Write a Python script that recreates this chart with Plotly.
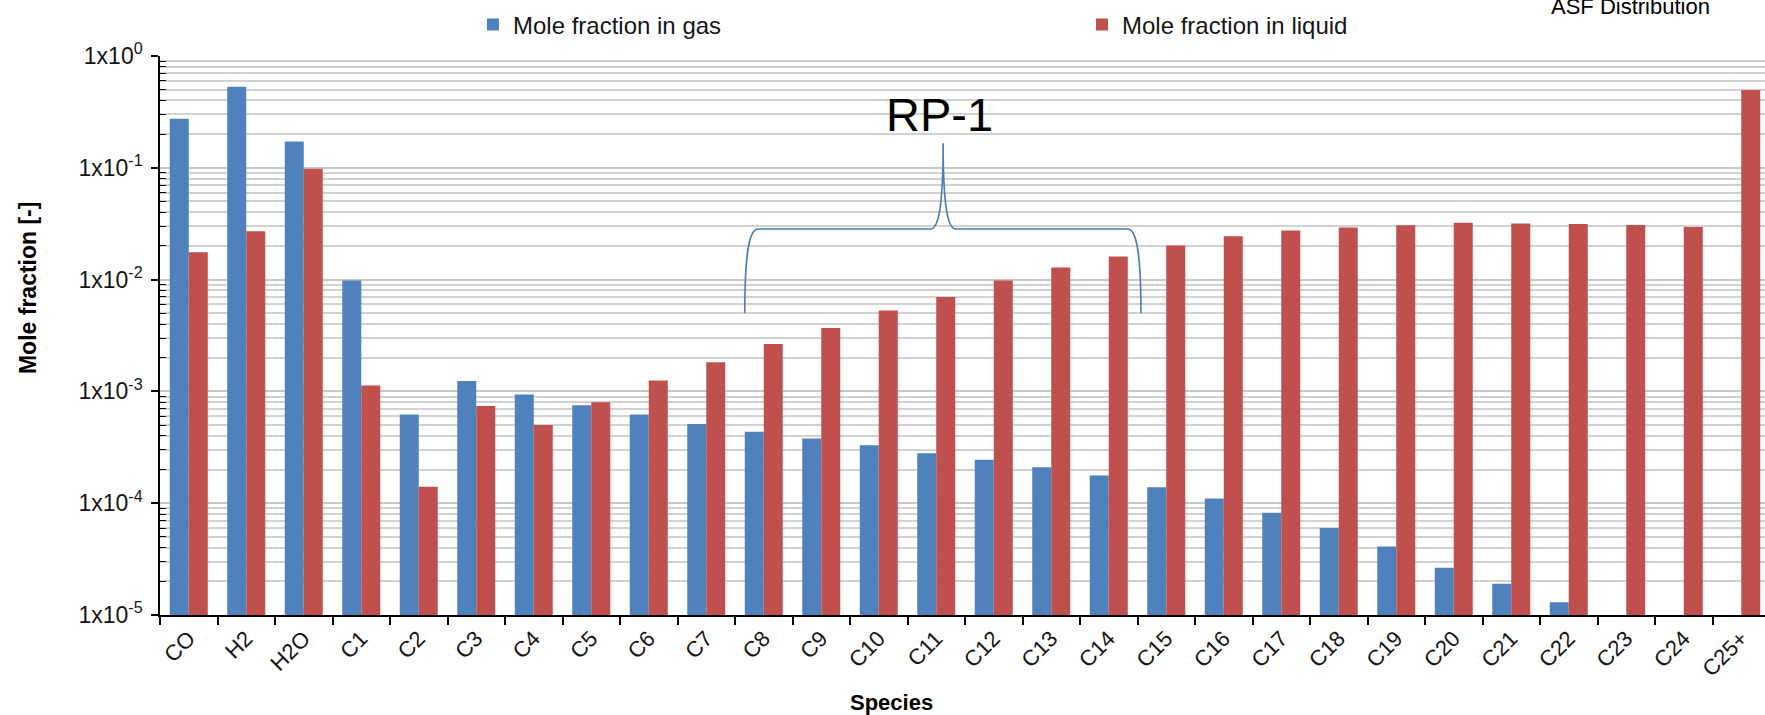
import plotly.graph_objects as go

# ---------------- data ----------------
species = ["CO", "H2", "H2O", "C1", "C2", "C3", "C4", "C5", "C6", "C7", "C8", "C9",
           "C10", "C11", "C12", "C13", "C14", "C15", "C16", "C17", "C18", "C19",
           "C20", "C21", "C22", "C23", "C24", "C25+"]

gas = [0.275, 0.53, 0.172, 0.0098, 6.2e-4, 1.24e-3, 9.4e-4, 7.5e-4, 6.2e-4, 5.1e-4,
       4.35e-4, 3.8e-4, 3.3e-4, 2.8e-4, 2.45e-4, 2.1e-4, 1.77e-4, 1.39e-4, 1.1e-4,
       8.2e-5, 6.0e-5, 4.1e-5, 2.65e-5, 1.9e-5, 1.3e-5, 9.5e-6, 9.0e-6, 8.5e-6]

liquid = [0.0176, 0.027, 0.098, 1.13e-3, 1.4e-4, 7.4e-4, 5.0e-4, 8.0e-4, 1.25e-3,
          1.82e-3, 2.65e-3, 3.7e-3, 5.3e-3, 7.0e-3, 9.8e-3, 1.28e-2, 1.61e-2, 2.02e-2,
          2.44e-2, 2.75e-2, 2.93e-2, 3.07e-2, 3.22e-2, 3.17e-2, 3.14e-2, 3.08e-2,
          2.95e-2, 0.497]

major_ticks = [1e-5, 1e-4, 1e-3, 1e-2, 1e-1, 1e0]
major_text = ["1x10<sup>-5</sup>", "1x10<sup>-4</sup>", "1x10<sup>-3</sup>",
              "1x10<sup>-2</sup>", "1x10<sup>-1</sup>", "1x10<sup>0</sup>"]
minor_ticks = [m * 10.0 ** e for e in range(-5, 0) for m in range(2, 10)]

gas_name = "Mole fraction in gas"
liq_name = "Mole fraction in liquid"
BLUE = "#4f81bd"
RED = "#c0504d"
FONT = "Liberation Sans, Arial, sans-serif"
TXT = "#151515"

fig = go.Figure()
fig.add_trace(go.Bar(x=species, y=gas, name=gas_name, marker=dict(color=BLUE, line=dict(width=0))))
fig.add_trace(go.Bar(x=species, y=liquid, name=liq_name, marker=dict(color=RED, line=dict(width=0))))

# RP-1 bracket (x in category index units, y in paper units)
xl, xl2, xm, xr2, xr = 9.67, 9.90, 13.12, 16.33, 16.56
yb, yh, yp = 0.540, 0.6905, 0.844
path = (f"M {xl},{yb} C {xl},{yh - 0.06} {xl + 0.05},{yh} {xl2},{yh} "
        f"L {xm - 0.22},{yh} C {xm - 0.08},{yh} {xm},{yh + 0.04} {xm},{yp} "
        f"C {xm},{yh + 0.04} {xm + 0.08},{yh} {xm + 0.22},{yh} "
        f"L {xr2},{yh} C {xr - 0.05},{yh} {xr},{yh - 0.06} {xr},{yb}")
fig.add_shape(type="path", path=path, xref="x", yref="paper",
              line=dict(color="#4a7ebb", width=1.6))

fig.add_annotation(text="RP-1", x=13.05, y=0.896, xref="x", yref="paper",
                   showarrow=False, font=dict(size=47, color="black", family=FONT),
                   xanchor="center", yanchor="middle")
fig.add_annotation(text="ASF Distribution", x=0.967, y=1.063, xref="paper", yref="paper",
                   showarrow=False, font=dict(size=22, color="black", family=FONT),
                   xanchor="right", yanchor="bottom")
fig.add_annotation(text="<b>Mole fraction [-]</b>", x=-0.0822, y=0.585, xref="paper",
                   yref="paper", showarrow=False, textangle=-90,
                   font=dict(size=23, color="black", family=FONT),
                   xanchor="center", yanchor="middle")
fig.add_annotation(text="<b>Species</b>", x=0.456, y=-0.157, xref="paper", yref="paper",
                   showarrow=False, font=dict(size=22, color="black", family=FONT),
                   xanchor="center", yanchor="middle")

fig.update_layout(
    width=1765, height=715, autosize=False,
    margin=dict(l=160, r=0, t=56, b=100, pad=0),
    paper_bgcolor="white", plot_bgcolor="white",
    barmode="group", bargap=0.339, bargroupgap=0,
    font=dict(family=FONT, color=TXT),
    legend=dict(orientation="h", x=0.195, y=1.0555, xanchor="left", yanchor="middle",
                entrywidth=564, entrywidthmode="pixels", itemwidth=30,
                font=dict(size=24, color=TXT, family=FONT),
                bgcolor="rgba(0,0,0,0)"),
    xaxis=dict(type="category", range=[-0.5, 27.413], tickson="boundaries",
               ticks="outside", ticklen=8, tickwidth=1.5, tickcolor="black",
               showline=True, linecolor="black", linewidth=2, showgrid=False,
               tickangle=-45, tickfont=dict(size=22, color=TXT, family=FONT)),
    yaxis=dict(type="log", range=[-5, 0], tickvals=major_ticks, ticktext=major_text,
               ticks="outside", ticklen=7, tickwidth=1.5, tickcolor="black",
               showline=True, linecolor="black", linewidth=1.5,
               showgrid=True, gridcolor="#c8c8c8", gridwidth=1.5,
               ticklabelstandoff=4,
               tickfont=dict(size=23, color=TXT, family=FONT),
               minor=dict(tickvals=minor_ticks, ticks="inside", ticklen=6,
                          tickcolor="black", tickwidth=1, showgrid=True,
                          gridcolor="#d2d2d2", gridwidth=1.5)),
)

fig.write_html("out.html")
